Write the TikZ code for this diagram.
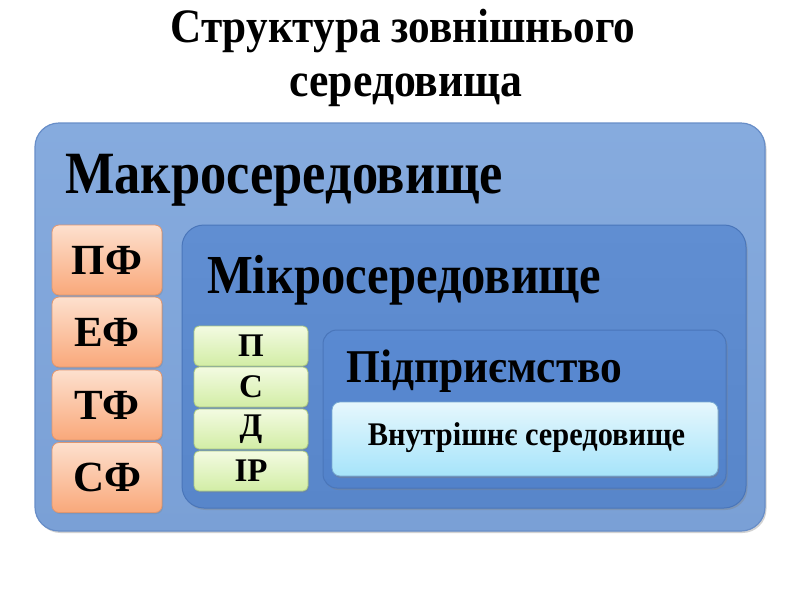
\documentclass[tikz,border=0pt]{standalone}
\usepackage{fontspec}
\usepackage{graphicx}
\setmainfont{Liberation Serif}
\usetikzlibrary{shadows}
\definecolor{outerfill}{RGB}{122,160,214}
\definecolor{outertop}{RGB}{134,171,222}
\definecolor{outerdraw}{RGB}{104,142,200}
\definecolor{microfill}{RGB}{88,134,202}
\definecolor{microtop}{RGB}{96,142,210}
\definecolor{microdraw}{RGB}{74,118,186}
\definecolor{entfill}{RGB}{82,130,202}
\definecolor{enttop}{RGB}{90,138,210}
\definecolor{ortop}{RGB}{253,224,206}
\definecolor{orbot}{RGB}{249,168,122}
\definecolor{ordraw}{RGB}{226,150,110}
\definecolor{grtop}{RGB}{243,251,226}
\definecolor{grbot}{RGB}{210,237,165}
\definecolor{grdraw}{RGB}{170,200,130}
\definecolor{cytop}{RGB}{230,247,253}
\definecolor{cybot}{RGB}{166,228,250}
\definecolor{cydraw}{RGB}{120,170,210}
\tikzset{
  box/.style={rectangle, inner sep=0pt, outer sep=0pt},
  outerbox/.style={box, draw=outerdraw, line width=1.2pt, rounded corners=24pt,
    top color=outertop, bottom color=outerfill,
    drop shadow={shadow xshift=1.5pt, shadow yshift=-2pt, opacity=0.35}},
  microbox/.style={box, draw=microdraw, line width=1pt, rounded corners=22pt,
    top color=microtop, bottom color=microfill,
    drop shadow={shadow xshift=1.5pt, shadow yshift=-2pt, opacity=0.35}},
  entbox/.style={box, draw=microdraw, line width=1pt, rounded corners=14pt,
    top color=enttop, bottom color=entfill,
    drop shadow={shadow xshift=1.5pt, shadow yshift=-2pt, opacity=0.35}},
  innerbox/.style={box, draw=cydraw, line width=0.8pt, rounded corners=8pt,
    top color=cytop, bottom color=cybot,
    drop shadow={shadow xshift=1pt, shadow yshift=-2pt, opacity=0.4}},
  orbox/.style={box, draw=ordraw, line width=0.8pt, rounded corners=7pt,
    top color=ortop, bottom color=orbot, minimum width=110pt, minimum height=70pt,
    drop shadow={shadow xshift=1pt, shadow yshift=-1.5pt, opacity=0.3},
    font=\fontsize{43}{45}\selectfont\bfseries},
  grbox/.style={box, draw=grdraw, line width=0.8pt, rounded corners=5pt,
    top color=grtop, bottom color=grbot, minimum width=114pt, minimum height=40pt,
    drop shadow={shadow xshift=1pt, shadow yshift=-1.5pt, opacity=0.3},
    font=\fontsize{33}{35}\selectfont\bfseries},
  lbl/.style={inner sep=0pt, anchor=base west}
}
\begin{document}
\begin{tikzpicture}[x=1pt,y=-1pt]
\useasboundingbox (0,0) rectangle (800,600);
\fill[white] (0,0) rectangle (800,600);
% title
\node[inner sep=0pt, anchor=base, font=\fontsize{48}{50}\selectfont\bfseries] (t1) at (403,42) {\scalebox{0.9}[1]{Структура зовнішнього}};
\node[inner sep=0pt, anchor=base, font=\fontsize{48}{50}\selectfont\bfseries] (t2) at (406,96) {\scalebox{0.91}[1]{середовища}};
% boxes
\node[outerbox, minimum width=730pt, minimum height=408pt] (macro) at (400,327) {};
\node[microbox, minimum width=564pt, minimum height=283pt] (micro) at (464,366.5) {};
\node[entbox, minimum width=403pt, minimum height=158pt] (ent) at (524.5,409) {};
\node[innerbox, minimum width=386pt, minimum height=74pt] (inner) at (525,439) {};
\node[inner sep=0pt, anchor=base, font=\fontsize{33}{35}\selectfont\bfseries] (innertext) at (526.5,445) {\scalebox{0.92}[1]{Внутрішнє середовище}};
% labels
\node[lbl, font=\fontsize{60}{62}\selectfont\bfseries] (lmacro) at (65,193) {\scalebox{0.874}[1]{Макросередовище}};
\node[lbl, font=\fontsize{55}{57}\selectfont\bfseries] (lmicro) at (207,293) {\scalebox{0.882}[1]{Мікросередовище}};
\node[lbl, font=\fontsize{47}{49}\selectfont\bfseries] (lent) at (346,382) {\scalebox{0.925}[1]{Підприємство}};
% orange
\node[orbox] (pf) at (107,260) {ПФ};
\node[orbox] (ef) at (107,332) {ЕФ};
\node[orbox] (tf) at (107,405) {ТФ};
\node[orbox] (sf) at (107,477.5) {СФ};
% green
\node[grbox] (gp) at (251,346) {П};
\node[grbox] (gs) at (251,387) {С};
\node[grbox] (gd) at (251,429) {Д};
\node[grbox] (gir) at (251,471) {ІР};
\end{tikzpicture}
\end{document}
